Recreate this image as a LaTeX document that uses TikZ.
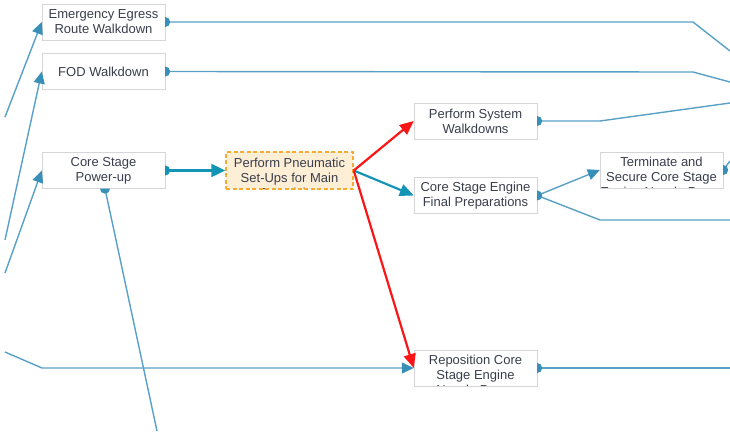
\documentclass[tikz,border=0pt]{standalone}
\usepackage{fontspec}
\setmainfont{Liberation Sans}
\usetikzlibrary{arrows.meta}

\definecolor{lnblue}{RGB}{88,160,198}
\definecolor{tipblue}{RGB}{56,144,184}
\definecolor{flowteal}{RGB}{20,148,180}
\definecolor{boxline}{RGB}{214,214,214}
\definecolor{txtgray}{RGB}{58,62,76}
\definecolor{pnfill}{RGB}{253,238,214}
\definecolor{pnline}{RGB}{246,172,50}
\definecolor{hotred}{RGB}{250,22,22}

% half round ports on the boxes
\newcommand\portE[2][tipblue]{\fill[#1] ([yshift=5pt]#2) arc[start angle=90,end angle=-90,radius=5pt] -- cycle;}
\newcommand\portS[2][tipblue]{\fill[#1] ([xshift=-5pt]#2) arc[start angle=180,end angle=360,radius=5pt] -- cycle;}

\begin{document}
\begin{tikzpicture}[x=1pt,y=1pt,
  txtfont/.style={text=txtgray,font=\fontsize{13}{15}\selectfont},
  task/.style={draw=boxline,fill=white,minimum width=123pt,minimum height=36pt,
    inner sep=0pt,align=center,txtfont},
  cuttask/.style={task,path picture={\node[anchor=north,align=center,inner sep=0pt,txtfont]
    at ([yshift=-5pt]path picture bounding box.north) {#1};}},
  busy/.style={draw=pnline,fill=pnfill,dash pattern=on 4pt off 2.5pt,line width=1.5pt,
    minimum width=127pt,minimum height=37pt},
  link/.style={draw=lnblue,line width=1.4pt},
  feed/.style={link,-{Triangle[length=12pt,width=11pt,color=tipblue]}},
  heavy/.style={draw=flowteal,line width=2.4pt,-{Triangle[length=14pt,width=13pt]}},
  mid/.style={draw=flowteal,line width=2.2pt,-{Triangle[length=14pt,width=12pt]}},
  hot/.style={draw=hotred,line width=2.2pt,-{Triangle[length=14pt,width=12pt]}}]
  \useasboundingbox (0,0) rectangle (730,-431);

  % boxes
  \node[task] (egress) at (103.5,-22) {Emergency Egress\\Route Walkdown};
  \node[task] (fod) at (103.5,-71.5) {FOD Walkdown};
  \node[task] (power) at (103.5,-170.5) {Core Stage\\Power-up};
  \node[cuttask={Perform Pneumatic\\Set-Ups for Main\\Propulsion},busy] (pneu) at (289.5,-170.5) {};
  \node[task] (walk) at (475.5,-121) {Perform System\\Walkdowns};
  \node[task] (final) at (475.5,-195.5) {Core Stage Engine\\Final Preparations};
  \node[cuttask={Terminate and\\Secure Core Stage\\Engine Nozzle Purge}] (term) at (661.5,-170) {};
  \node[cuttask={Reposition Core\\Stage Engine\\Nozzle Purge}] (repo) at (475.5,-368) {};

  % loose ends at the edges
  \coordinate (inA) at (5,-117);
  \coordinate (inB) at (5,-240);
  \coordinate (inC) at (5,-273);
  \coordinate (inD) at (5,-352);
  \coordinate (outA) at (730,-51);
  \coordinate (outB) at (730,-82);
  \coordinate (outC) at (730,-103);
  \coordinate (outD) at (730,-161);
  \coordinate (outE) at (730,-220);
  \coordinate (outF) at (730,-368);
  \coordinate (downA) at (157,-431);
  \coordinate (pwrport) at ([xshift=1.5pt]power.south);

  \draw[feed] (inA) -- (egress.west);
  \draw[feed] (inB) -- (fod.west);
  \draw[feed] (inC) -- (power.west);
  \draw[feed] (inD) -- (42,-368) -- (repo.west);
  \draw[link] (egress.east) -- (693,-22) -- (outA);
  \draw[link] (fod.east) -- (693,-72) -- (outB);
  \draw[link] (pwrport) -- (downA);
  \draw[heavy] (power.east) -- (pneu.west);
  \draw[mid] (pneu.east) -- (final.west);
  \draw[hot] (pneu.east) -- (walk.west);
  \draw[hot] (pneu.east) -- (repo.west);
  \draw[link] (walk.east) -- (600,-121) -- (outC);
  \draw[feed] (final.east) -- (term.west);
  \draw[link] (final.east) -- (600,-220) -- (outE);
  \draw[link] (term.east) -- (outD);
  \draw[link] (repo.east) -- (outF);

  % ports
  \portE{egress.east}
  \portE{fod.east}
  \portE[flowteal]{power.east}
  \portS{pwrport}
  \portE{walk.east}
  \portE{final.east}
  \portE{term.east}
  \portE{repo.east}
\end{tikzpicture}
\end{document}
